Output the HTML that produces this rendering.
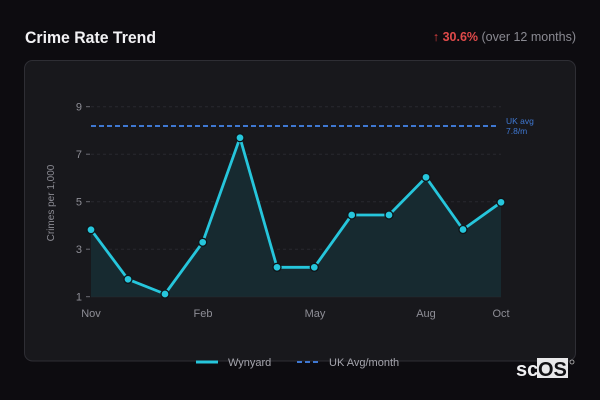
<!DOCTYPE html>
<html><head><meta charset="utf-8"><style>
html,body{margin:0;padding:0;background:#0d0c10;}
body{width:600px;height:400px;overflow:hidden;position:relative;font-family:"Liberation Sans",sans-serif;}
svg{position:absolute;left:0;top:0;}
</style></head><body>
<svg width="600" height="400" viewBox="0 0 600 400" xmlns="http://www.w3.org/2000/svg">
<rect x="0" y="0" width="600" height="400" fill="#0d0c10"/>
<rect x="24.5" y="60.5" width="551" height="300.5" rx="8" fill="#18181c" stroke="#2e2e34" stroke-width="1"/>
<text x="25" y="43" font-size="17" font-weight="bold" fill="#f2f2f4" textLength="131" lengthAdjust="spacingAndGlyphs">Crime Rate Trend</text>
<text x="576" y="41" font-size="12.5" text-anchor="end" fill="#8a8a92"><tspan fill="#d94040">↑ </tspan><tspan fill="#e04a4a" font-weight="bold">30.6%</tspan> (over 12 months)</text>
<!-- grid -->
<g stroke="#29292f" stroke-width="1" stroke-dasharray="3,3">
<line x1="91" y1="106.7" x2="501" y2="106.7"/>
<line x1="91" y1="154.2" x2="501" y2="154.2"/>
<line x1="91" y1="201.7" x2="501" y2="201.7"/>
<line x1="91" y1="249.2" x2="501" y2="249.2"/>
</g>
<line x1="91" y1="296.7" x2="501" y2="296.7" stroke="#29292f" stroke-width="1"/>
<g stroke="#6a6a72" stroke-width="1">
<line x1="86" y1="106.7" x2="90" y2="106.7"/>
<line x1="86" y1="154.2" x2="90" y2="154.2"/>
<line x1="86" y1="201.7" x2="90" y2="201.7"/>
<line x1="86" y1="249.2" x2="90" y2="249.2"/>
<line x1="86" y1="296.7" x2="90" y2="296.7"/>
</g>
<g font-size="11" fill="#8e8e96" text-anchor="end">
<text x="82" y="110.5">9</text>
<text x="82" y="158">7</text>
<text x="82" y="205.5">5</text>
<text x="82" y="253">3</text>
<text x="82" y="300.5">1</text>
</g>
<text transform="translate(54,203) rotate(-90)" font-size="10" fill="#8b8b93" text-anchor="middle">Crimes per 1,000</text>
<g font-size="11" fill="#8e8e96" text-anchor="middle">
<text x="91" y="317">Nov</text>
<text x="203" y="317">Feb</text>
<text x="315" y="317">May</text>
<text x="426" y="317">Aug</text>
<text x="501" y="317">Oct</text>
</g>
<!-- area -->
<path d="M91,229.7 L128,279.3 L165,294 L202.7,242.3 L240,137.7 L277,267.3 L314.3,267.3 L351.7,215 L389,215 L426,177.3 L463,229.5 L501,202.3 L501,296.7 L91,296.7 Z" fill="#172a30"/>
<!-- uk avg -->
<line x1="91" y1="126" x2="498" y2="126" stroke="#3f78d2" stroke-width="2" stroke-dasharray="5,3"/>
<text x="506" y="124" font-size="8.5" fill="#3f78d2">UK avg</text>
<text x="506" y="134" font-size="8.5" fill="#3f78d2">7.8/m</text>
<!-- line -->
<polyline points="91,229.7 128,279.3 165,294 202.7,242.3 240,137.7 277,267.3 314.3,267.3 351.7,215 389,215 426,177.3 463,229.5 501,202.3" fill="none" stroke="#26c6dc" stroke-width="2.8" stroke-linejoin="round"/>
<g fill="#26c6dc" stroke="#0f1418" stroke-width="1.3">
<circle cx="91" cy="229.7" r="4"/>
<circle cx="128" cy="279.3" r="4"/>
<circle cx="165" cy="294" r="4"/>
<circle cx="202.7" cy="242.3" r="4"/>
<circle cx="240" cy="137.7" r="4"/>
<circle cx="277" cy="267.3" r="4"/>
<circle cx="314.3" cy="267.3" r="4"/>
<circle cx="351.7" cy="215" r="4"/>
<circle cx="389" cy="215" r="4"/>
<circle cx="426" cy="177.3" r="4"/>
<circle cx="463" cy="229.5" r="4"/>
<circle cx="501" cy="202.3" r="4"/>
</g>
<!-- legend -->
<line x1="196" y1="362" x2="218" y2="362" stroke="#26c6dc" stroke-width="3"/>
<text x="228" y="366" font-size="11" fill="#a5a5ad">Wynyard</text>
<line x1="297" y1="362" x2="321" y2="362" stroke="#3f78d2" stroke-width="2" stroke-dasharray="5,3"/>
<text x="329" y="366" font-size="11" fill="#a5a5ad">UK Avg/month</text>
<!-- logo -->
<rect x="537" y="358" width="31" height="20" fill="#e8e8ea"/>
<text x="516" y="376" font-size="20" font-weight="bold" fill="#f0f0f2">sc</text>
<text x="538" y="376" font-size="20" font-weight="bold" fill="#111114">OS</text>
<circle cx="572" cy="362" r="2" fill="none" stroke="#bbb" stroke-width="0.8"/>
</svg>
</body></html>
